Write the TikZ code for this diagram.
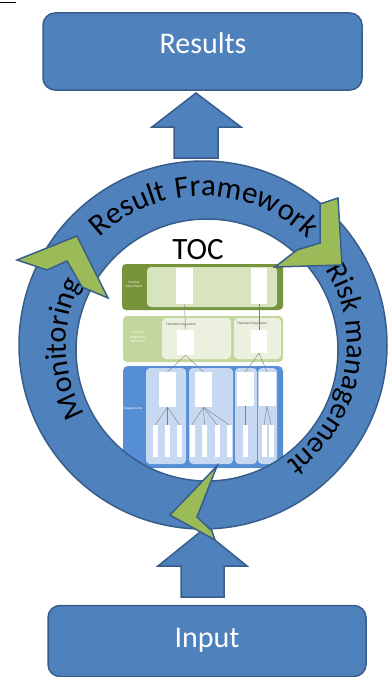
\documentclass[tikz,border=0pt]{standalone}
\usepackage{fontspec}
\setmainfont{Carlito}
\newfontfamily\ringwide[LetterSpace=4]{Carlito}
\usetikzlibrary{decorations.text}

\definecolor{accentblue}{HTML}{4F81BD}
\definecolor{edgeblue}{HTML}{385D8A}
\definecolor{leafgreen}{HTML}{9BBB59}
\definecolor{olivedark}{HTML}{77933C}
\definecolor{olivemid}{HTML}{C3D69B}
\definecolor{olivelight}{HTML}{D7E4BD}
\definecolor{olivepale}{HTML}{EBF1DE}
\definecolor{engblue}{HTML}{558ED5}
\definecolor{engpale}{HTML}{C6D9F1}
\definecolor{twig}{HTML}{7F7F7F}

\newcommand\ringfont{\fontsize{30}{30}\selectfont}
\newcommand\ringfontwide{\ringwide\fontsize{31}{31}\selectfont}
\newcommand\tinyfont{\fontsize{3.4}{4.2}\selectfont}

\begin{document}
\begin{tikzpicture}[x=1pt,y=-1pt,
  bluebox/.style={draw=edgeblue,fill=accentblue,line width=1.5pt,rounded corners=12pt,inner sep=0pt},
  boxlabel/.style={text=white,font=\fontsize{30}{30}\selectfont,inner sep=0pt},
  blockarrow/.style={draw=edgeblue,fill=accentblue,line width=1.5pt,line join=miter},
  chevron/.style={draw=edgeblue,fill=leafgreen,line width=1.5pt,line join=miter},
  panel/.style={rounded corners=4pt},
  slot/.style={fill=white,inner sep=0pt},
  bar/.style={fill=white,inner sep=0pt,minimum width=5pt,minimum height=32pt},
  twigline/.style={draw=twig,line width=0.4pt},
  tag/.style={text=white,font=\tinyfont,align=center,inner sep=0pt},
  headtag/.style={text=black!70,font=\tinyfont,anchor=west,inner sep=0pt}
]
\useasboundingbox (0,0) rectangle (388,677);

% short rule in the corner
\draw[line width=1.5pt] (0,2.5) -- (16,2.5);

% result and input boxes
\node[bluebox,minimum width=319pt,minimum height=77pt] (results) at (202.5,51.5) {};
\node[boxlabel,anchor=base] (resultstext) at (203,53) {Results};
\node[bluebox,minimum width=318pt,minimum height=71pt] (input) at (207,641) {};
\node[boxlabel,anchor=base] (inputtext) at (207,647) {Input};

% block arrows pointing up
\draw[blockarrow] (196,93) -- (241,127) -- (218,127) -- (218,158) -- (174,158) -- (174,127) -- (152,127) -- cycle;
\draw[blockarrow] (202.5,530) -- (247,566) -- (224,566) -- (224,597) -- (181,597) -- (181,566) -- (158,566) -- cycle;

% ---- theory of change chart ----
\node[font=\fontsize{31}{31}\selectfont,anchor=base,inner sep=0pt] (toc) at (198,259) {TOC};

% country policy paper row
\fill[olivedark,panel] (122,264) rectangle (283,310);
\fill[olivelight,panel] (147,267) rectangle (277,307);
\node[tag] (cpp) at (134,285) {Country\\Policy Paper};
\node[slot,minimum width=17pt,minimum height=36pt] (p1) at (184.5,286) {};
\node[slot,minimum width=16pt,minimum height=36pt] (p2) at (259,286) {};

% country programme document row
\fill[olivemid,panel] (123,316) rectangle (283,362);
\fill[olivepale,panel] (162,318) rectangle (231,359);
\fill[olivepale,panel] (234,318) rectangle (281,359);
\node[tag] (cpd) at (138,337) {Country\\Programme\\Document};
\node[headtag] (tp1) at (166,325) {Thematic Programme};
\node[headtag] (tp2) at (237,324) {Thematic Programme};
\node[slot,minimum width=17pt,minimum height=25pt] (t1) at (185.5,342.5) {};
\node[slot,minimum width=16pt,minimum height=23pt] (t2) at (259,341.5) {};

% engagements row
\fill[engblue,rounded corners=5pt] (123,366) rectangle (283,468);
\fill[engpale,panel] (146,368) rectangle (186,464);
\fill[engpale,panel] (189,368) rectangle (233,464);
\fill[engpale,panel] (235,368) rectangle (257,464);
\fill[engpale,panel] (258,368) rectangle (277,464);
\node[tag] (eng) at (133,409) {Engagements};
\node[slot,minimum width=17pt,minimum height=35pt] (e1) at (167.5,389.5) {};
\node[slot,minimum width=17pt,minimum height=35pt] (e2) at (203.5,389.5) {};
\node[slot,minimum width=17pt,minimum height=34pt] (e3) at (245.5,389) {};
\node[slot,minimum width=17pt,minimum height=34pt] (e4) at (267,389) {};

\node[bar] (a1) at (155.5,441) {};
\node[bar] (a2) at (167.5,441) {};
\node[bar] (a3) at (179.5,441) {};
\node[bar] (b1) at (192,441) {};
\node[bar] (b2) at (204.5,441) {};
\node[bar] (b3) at (217,441) {};
\node[bar] (b4) at (229,441) {};
\node[bar] (c1) at (245.5,441) {};
\node[bar] (d1) at (264,441) {};
\node[bar] (d2) at (271,441) {};

% links of the chart
\draw[twigline] (p1.south) -- (t1.north);
\draw[twigline] (p2.south) -- (t2.north);
\draw[twigline] (t1.south) -- (e1.north);
\draw[twigline] (t1.south) -- (e2.north);
\draw[twigline] (t2.south) -- (e3.north);
\draw[twigline] (t2.south) -- (e4.north);
\foreach \leaf in {a1,a2,a3} \draw[twigline] (e1.south) -- (\leaf.north);
\foreach \leaf in {b1,b2,b3,b4} \draw[twigline] (e2.south) -- (\leaf.north);
\draw[twigline] (e3.south) -- (c1.north);
\foreach \leaf in {d1,d2} \draw[twigline] (e4.south) -- (\leaf.north);

% ---- cycle ring ----
\path[fill=accentblue,even odd rule] (203,345) circle[radius=184] (207,350) circle[radius=131];
\draw[edgeblue,line width=1.5pt] (203,345) circle[radius=184];
\draw[edgeblue,line width=1.5pt] (207,350) circle[radius=131];

% labels running clockwise round the ring
\path[shift={(203,345)},decorate,decoration={text along path,text align=center,
  text={|\ringfontwide|Result Framework}}] (218:149) arc[start angle=218,end angle=323,radius=149];
\path[shift={(203,345)},decorate,decoration={text along path,text align=center,
  text={|\ringfont|Risk management}}] (-38:144) arc[start angle=-38,end angle=61,radius=144];
\path[shift={(203,345)},decorate,decoration={text along path,text align=center,
  text={|\ringfont|Monitoring}}] (143:137) arc[start angle=143,end angle=214,radius=137];

% arrow heads of the cycle
\draw[chevron] (17,260) -- (77,236) -- (108,298) -- (82,287) -- (67,261) -- (47,270) -- cycle;
\draw[chevron] (338,198) -- (342,265) -- (275,267) -- (297,250) -- (320,243) -- (320,204) -- cycle;
\draw[chevron] (217,466) -- (170,515) -- (215,540) -- (212,531) -- (197,517) -- cycle;
\end{tikzpicture}
\end{document}
